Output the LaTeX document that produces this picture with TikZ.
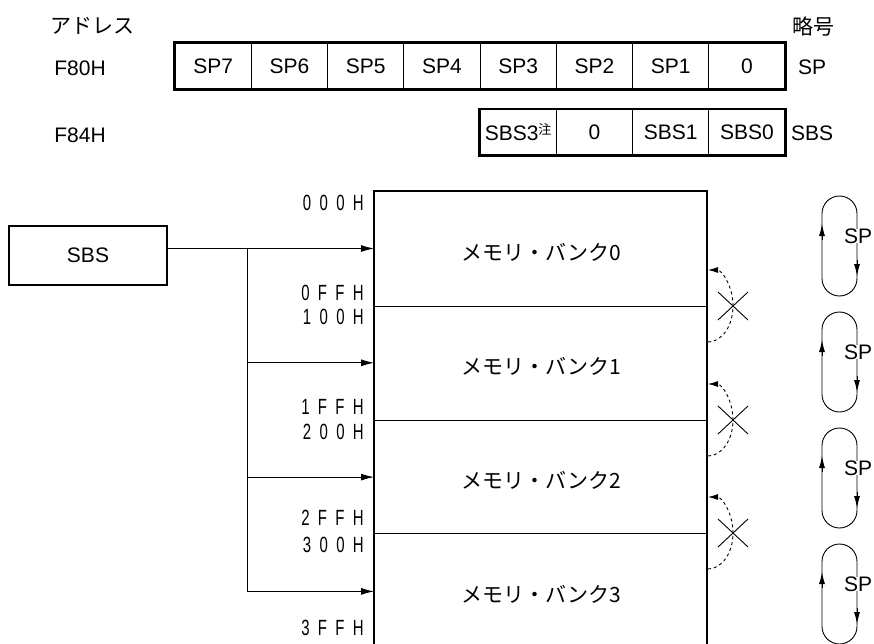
\documentclass[tikz,border=0pt]{standalone}
\usepackage{fontspec}
\setmainfont{Liberation Sans}
\newfontfamily\jpfont{Noto Sans CJK JP}
\newfontfamily\addrfont[FakeStretch=0.68,LetterSpace=38]{Liberation Sans}
\usetikzlibrary{arrows.meta,positioning}

\tikzset{
  bitcell/.style={draw, line width=0.8pt, minimum width=76.25pt, minimum height=46pt,
    inner sep=0pt, font=\fontsize{21}{24}\selectfont},
  lbl/.style={font=\fontsize{21}{24}\selectfont, inner sep=0pt},
  jplbl/.style={font=\fontsize{21}{24}\selectfont\jpfont, inner sep=0pt},
  addr/.style={font=\fontsize{22}{24}\selectfont\addrfont, inner sep=0pt, anchor=east},
  frame/.style={line width=2.8pt},
  wire/.style={line width=0.9pt},
  bankarrow/.style={wire, -{Latex[length=13pt,width=7pt]}},
  looparrow/.style={wire, -{Latex[length=12pt,width=6pt]}},
}

\begin{document}
\begin{tikzpicture}[x=1pt,y=-1pt]
		\useasboundingbox (0,0) rectangle (874,644);

		% headings
		\node[jplbl] (addrhead) at (92,26) {アドレス};
		\node[jplbl] (symhead) at (813,27) {略号};
		\node[lbl] (f80) at (80,68) {F80H};
		\node[lbl] (f84) at (80,135) {F84H};

		% SP register
		\foreach \t [count=\i] in {SP7,SP6,SP5,SP4,SP3,SP2,SP1,0}
			\node[bitcell] (sp\i) at ({175+76.25*(\i-0.5)},66) {\t};
		\draw[frame] (sp1.north west) rectangle (sp8.south east);
		\node[lbl, anchor=west] (splbl) at (798,67) {SP};

		% SBS register
		\foreach \t [count=\i from 5] in {{SBS3\raisebox{6pt}{\fontsize{13}{13}\selectfont\jpfont 注}},0,SBS1,SBS0}
			\node[bitcell] (sbs\i) at ({175+76.25*(\i-0.5)},132.5) {\t};
		\draw[frame] (sbs5.north west) rectangle (sbs8.south east);
		\node[lbl, anchor=west] (sbslbl) at (791,133) {SBS};

		% memory banks
		\coordinate (memtl) at (374,191);
		\coordinate (memtr) at (707,191);
		\draw[frame] (memtl |- 0,646) -- (memtl) -- (memtr) -- (memtr |- 0,646);
		\foreach \y in {306,420,533}
			\draw[wire] (374,\y) -- (707,\y);
		\foreach \i in {0,...,3}
			\node[jplbl] (bank\i) at (541,{252+114*\i}) {メモリ・バンク\i};

		% addresses
		\foreach \t/\y [count=\i] in {000H/203,0FFH/293,100H/317,1FFH/407,200H/432,2FFH/518,300H/545,3FFH/628}
			\node[addr] (adr\i) at (364,\y) {\t};

		% SBS selects the bank
		\node[draw, frame, lbl, minimum width=158pt, minimum height=59pt] (sbsbox) at (88,255.5) {SBS};
		\foreach \i in {0,...,3} {
			\coordinate (in\i) at (374,{248.5+114.3*\i});
			\coordinate (bus\i) at (247,{248.5+114.3*\i});
		}
		\draw[bankarrow] (sbsbox.east |- in0) -- (in0);
		\draw[wire] (bus0) -- (bus3);
		\foreach \i in {1,2,3}
			\draw[bankarrow] (bus\i) -- (in\i);

		% no wrap between banks
		\foreach \y in {306,420,533} {
			\draw[wire, dashed, -{Latex[length=10pt,width=6pt]}] (708,\y+36)
				arc[start angle=-90, end angle=90, x radius=25pt, y radius=36pt];
			\draw[wire] (718,\y-14) -- (748,\y+14);
			\draw[wire] (718,\y+14) -- (748,\y-14);
		}

		% SP runs round inside a bank
		\foreach \t in {196,312,428,544} {
			\draw[wire, rounded corners=17.5pt] (822,\t) rectangle (857,\t+100);
			\draw[looparrow] (822,\t+44) -- (822,\t+28);
			\draw[looparrow] (857,\t+64) -- (857,\t+80);
			\node[lbl, fill=white] at (858,\t+40) {SP};
		}
	\end{tikzpicture}
\end{document}
